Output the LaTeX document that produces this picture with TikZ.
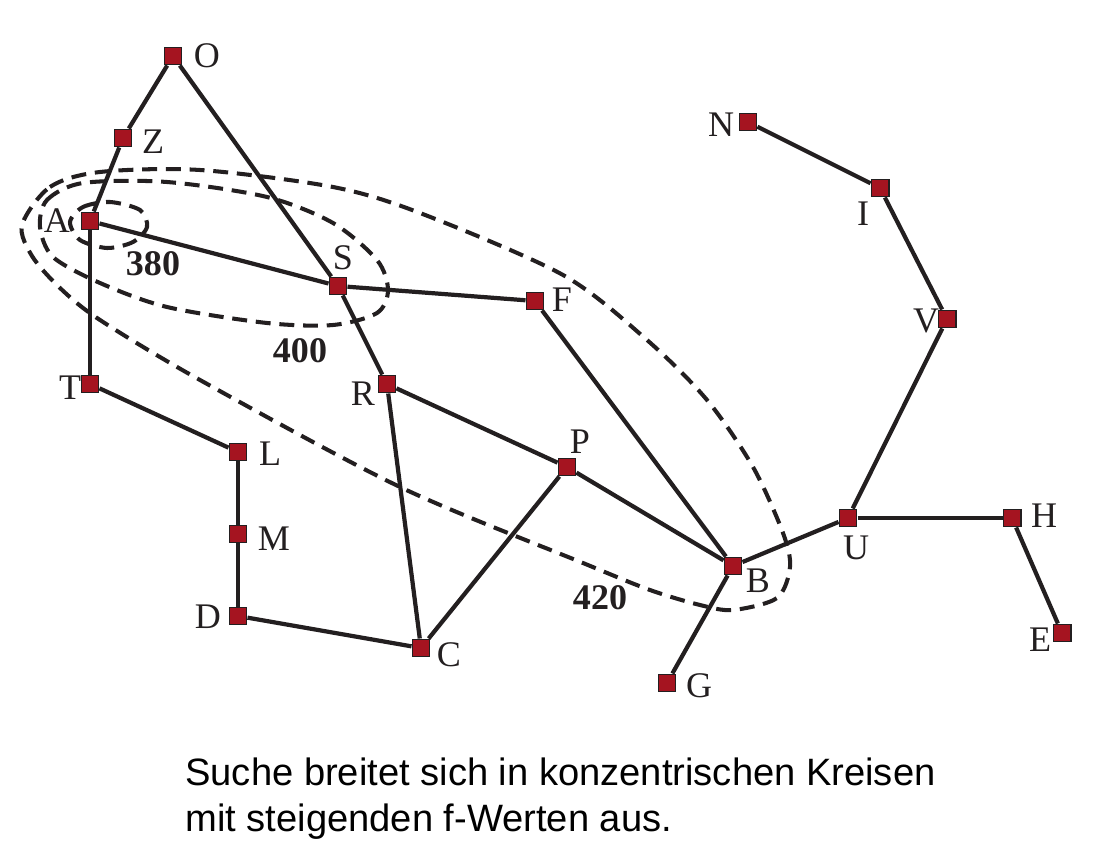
\documentclass[tikz,border=0pt]{standalone}
\usepackage{fontspec}
\setmainfont{Liberation Serif}
\newfontfamily\capfont{Liberation Sans}
\definecolor{knot}{RGB}{165,20,32}
\definecolor{ink}{RGB}{35,31,32}
\newcommand{\lblsize}{\fontsize{20.5}{23}\selectfont}

\begin{document}
\begin{tikzpicture}[x=0.02cm,y=-0.02cm,
    town/.style={draw=ink,fill=knot,line width=1pt,minimum size=9.8pt,inner sep=0pt},
    lbl/.style={font=\lblsize,inner sep=0pt,text=ink},
    road/.style={draw=ink,line width=2.4pt},
    ring/.style={draw=ink,line width=2.3pt,dash pattern=on 8.5pt off 5pt},
    fval/.style={font=\lblsize\bfseries,inner sep=0pt,text=ink}]
   \useasboundingbox (0,0) rectangle (1105,847);
   \foreach \n/\x/\y/\lx/\ly in {O/173/56/207/56, Z/123/138/153/142,
     A/90/221/57/221, S/338/286/343/258, F/535/301/562/300, T/90/384/70/388,
     L/238/452/270/454, M/238/534/274/539, D/238/616/208/617, R/387/384/363/394,
     P/567/467/580/442, C/421/648/449/655, B/733/566/758/581, G/667/683/699/686,
     U/848/518/856/548, H/1012/518/1044/516, E/1062/633/1040/640,
     V/947/319/926/321, I/880/188/863/214, N/748/122/721/125}
   {
     \node[town] (\n) at (\x,\y) {};
     \node[lbl] (l\n) at (\lx,\ly) {\n};
   }
   \foreach \a/\b in {O/Z, Z/A, O/S, A/S, A/T, S/F, S/R, T/L, L/M, M/D, D/C,
     R/C, R/P, P/C, P/B, F/B, B/G, B/U, U/H, H/E, U/V, V/I, I/N}
     \draw[road] (\a) -- (\b);
   \draw[ring] plot[smooth cycle] coordinates {(70,222) (83,207) (110,202)
     (140,210) (147,227) (133,242) (107,248) (80,240)};
   \draw[ring] plot[smooth cycle] coordinates {(40,227) (47,200) (83,183)
     (167,182) (267,197) (333,223) (377,260) (388,290) (377,313) (333,325)
     (267,323) (167,307) (100,283) (53,257)};
   \draw[ring] plot[smooth cycle] coordinates {(22,225) (50,187) (100,172)
     (200,170) (333,187) (420,213) (563,275) (647,340) (707,400) (753,467)
     (783,533) (790,567) (777,598) (733,610) (700,605) (650,590) (583,563)
     (400,487) (200,380) (100,320) (60,288) (32,256)};
   \node[fval] (n380) at (153,264) {380};
   \node[fval] (n400) at (300,351) {400};
   \node[fval] (n420) at (600,598) {420};
   \node[anchor=base west,align=left,inner sep=0pt,
     font=\capfont\fontsize{21.7}{26.1}\selectfont] (cap) at (185,831)
     {Suche breitet sich in konzentrischen Kreisen\\mit steigenden f-Werten aus.};
\end{tikzpicture}
\end{document}
